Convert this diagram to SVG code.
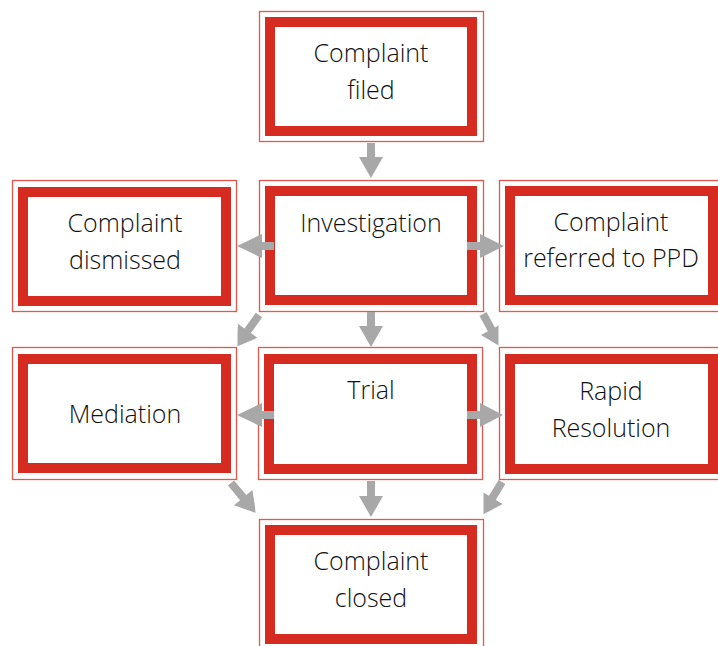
<svg xmlns="http://www.w3.org/2000/svg" width="718" height="646" viewBox="0 0 718 646">
<style>
.thin{fill:none;stroke:#e4574e;stroke-width:1.3}
.thick{fill:#fff;stroke:#d62b20;stroke-width:10}
.lbl{font-family:"Open Sans","Liberation Sans",sans-serif;font-size:25px;font-weight:300;fill:#111;text-anchor:middle}
.arr{fill:#a7a8a7}
</style>
<defs>
<clipPath id="c8"><rect x="237.5" y="300" width="60" height="60"/></clipPath>
<clipPath id="c9"><rect x="440" y="300" width="58.5" height="60"/></clipPath>
<clipPath id="c10"><rect x="200" y="470" width="55.5" height="60"/></clipPath>
<clipPath id="c11"><rect x="483.5" y="470" width="60" height="60"/></clipPath>
</defs>
<rect width="718" height="646" fill="#fff"/>
<g id="filed">
<rect class="thin" x="259.5" y="11.5" width="224" height="130"/>
<rect class="thick" x="270" y="22" width="202" height="109"/>
<text class="lbl" x="371" y="61.5">Complaint</text>
<text class="lbl" x="371" y="99">filed</text>
</g>
<g id="investigation">
<rect class="thin" x="259.5" y="180.5" width="224" height="131"/>
<rect class="thick" x="270" y="191" width="202" height="109"/>
<text class="lbl" x="371" y="231.5">Investigation</text>
</g>
<g id="dismissed">
<rect class="thin" x="12.5" y="180.5" width="224" height="131"/>
<rect class="thick" x="23" y="192" width="203" height="109"/>
<text class="lbl" x="125" y="231.5">Complaint</text>
<text class="lbl" x="125" y="269">dismissed</text>
</g>
<g id="referred">
<rect class="thin" x="499.5" y="180.5" width="224" height="131"/>
<rect class="thick" x="510" y="191" width="203" height="109"/>
<text class="lbl" x="611" y="230.5">Complaint</text>
<text class="lbl" x="611" y="267">referred to PPD</text>
</g>
<g id="mediation">
<rect class="thin" x="12.5" y="347.5" width="224" height="132"/>
<rect class="thick" x="23" y="359" width="203" height="109"/>
<text class="lbl" x="125" y="422.5">Mediation</text>
</g>
<g id="trial">
<rect class="thin" x="258.5" y="347.5" width="224" height="132"/>
<rect class="thick" x="269" y="359" width="203" height="110"/>
<text class="lbl" x="371" y="399">Trial</text>
</g>
<g id="rapid">
<rect class="thin" x="499.5" y="347.5" width="224" height="132"/>
<rect class="thick" x="510" y="359" width="203" height="110"/>
<text class="lbl" x="611" y="399.5">Rapid</text>
<text class="lbl" x="611" y="437">Resolution</text>
</g>
<g id="closed">
<rect class="thin" x="259.5" y="519.5" width="224" height="131"/>
<rect class="thick" x="270" y="530" width="202" height="109"/>
<text class="lbl" x="371" y="570">Complaint</text>
<text class="lbl" x="371" y="607">closed</text>
</g>
<g id="connectors" class="arr">
<polygon points="367,143 375,143 375,157 383,157 371,178 359,157 367,157"/>
<polygon points="367,312 375,312 375,326 383,326 371,347 359,326 367,326"/>
<polygon points="367,481 375,481 375,496 383,496 371,517 359,496 367,496"/>
<polygon points="274,242 274,250 262,250 262,258 237,246 262,234 262,242"/>
<polygon points="467,242 467,250 480,250 480,258 504,246 480,234 480,242"/>
<polygon points="274,411 274,419 262,419 262,427 237,415 262,403 262,411"/>
<polygon points="467,411 467,419 480,419 480,427 503,415 480,403 480,411"/>
<polygon clip-path="url(#c8)" points="262.2,317.3 250.9,333.1 257.4,337.8 236,347 237.9,323.8 244.5,328.5 255.8,312.7"/>
<polygon clip-path="url(#c9)" points="486.5,312.1 494.9,327.5 501.9,323.7 501,347 480.9,335.1 487.9,331.3 479.5,315.9"/>
<polygon clip-path="url(#c10)" points="234.1,480.4 246.3,495.0 252.4,489.9 256,513 234.0,505.3 240.1,500.2 227.9,485.6"/>
<polygon clip-path="url(#c11)" points="505.4,484.1 495.8,500.0 502.7,504.1 482,515 482.1,491.7 489.0,495.8 498.6,479.9"/>
</g>
</svg>
